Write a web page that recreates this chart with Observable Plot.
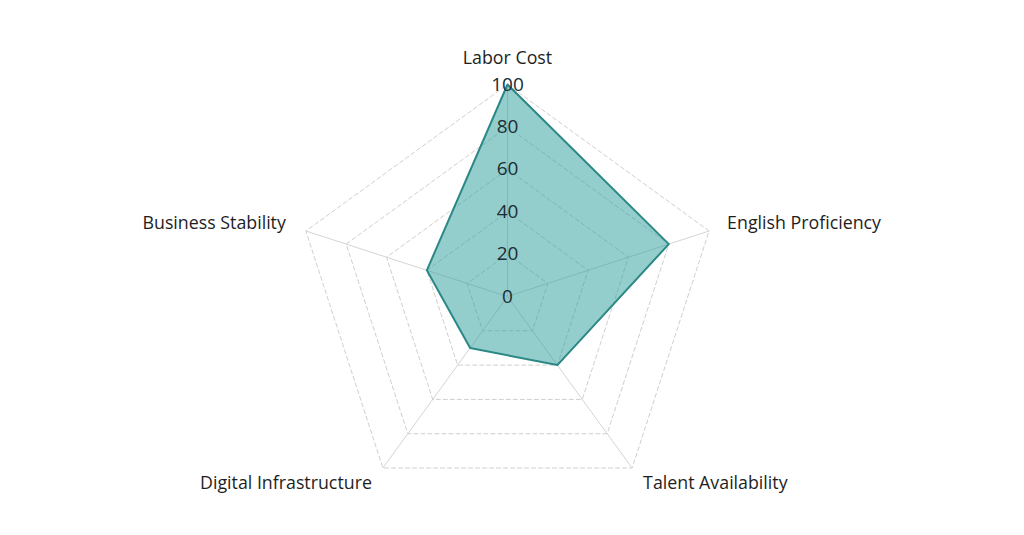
<!DOCTYPE html>
<html>
<head>
<meta charset="utf-8">
<script src="https://cdn.jsdelivr.net/npm/d3@7"></script>
<script src="https://cdn.jsdelivr.net/npm/@observablehq/plot@0.6"></script>
<style>
  html, body { margin: 0; padding: 0; background: #fff; }
  #chart { width: 1024px; height: 535px; }
</style>
</head>
<body>
<div id="chart"></div>
<script>
// Data
const categories = ["Labor Cost", "English Proficiency", "Talent Availability", "Digital Infrastructure", "Business Stability"];
const values = [100, 80, 40, 30, 40];
const ringLevels = [20, 40, 60, 80, 100];
const tickLabels = ["0", "20", "40", "60", "80", "100"];
const tickValues = [0, 20, 40, 60, 80, 100];

const n = categories.length;
const ang = i => (i * 2 * Math.PI) / n;
const px = (i, v) => v * Math.sin(ang(i));
const py = (i, v) => v * Math.cos(ang(i));

// Derived tables
const ringPts = ringLevels.flatMap(r => categories.map((c, i) => ({ring: r, x: px(i, r), y: py(i, r)})));
const spokes = categories.map((c, i) => ({x1: 0, y1: 0, x2: px(i, 100), y2: py(i, 100)}));
const dataPts = categories.map((c, i) => ({cat: c, x: px(i, values[i]), y: py(i, values[i])}));

// label placement (style)
const labelR = 100;
const labelStyle = [
  {anchor: "middle", dx: 0, dy: -26},
  {anchor: "start", dx: 18, dy: -8},
  {anchor: "start", dx: 11, dy: 15},
  {anchor: "end", dx: -11, dy: 15},
  {anchor: "end", dx: -20, dy: -8}
];
const labels = categories.map((c, i) => ({cat: c, x: px(i, labelR), y: py(i, labelR), i}));

const k = 2.12; // px per unit
const W = 1024, H = 535, cx = 507, cy = 296;

const marks = [
  Plot.line(ringPts, {x: "x", y: "y", z: "ring", curve: "linear-closed", stroke: "#cfcfcf", strokeWidth: 1, strokeDasharray: "4,3"}),
  Plot.link(spokes, {x1: "x1", y1: "y1", x2: "x2", y2: "y2", stroke: "#d4d4d4", strokeWidth: 1}),
  Plot.line(dataPts, {x: "x", y: "y", curve: "linear-closed", fill: "#2a9d99", fillOpacity: 0.5, stroke: "#2b8887", strokeWidth: 2}),
  Plot.text(tickValues.map((v, j) => ({v, t: tickLabels[j]})), {x: 0, y: "v", text: "t", fill: "#1b2d36", fontSize: 19, textAnchor: "middle", lineAnchor: "middle"})
];
labelStyle.forEach((s, i) => {
  marks.push(Plot.text([labels[i]], {x: "x", y: "y", text: "cat", textAnchor: s.anchor, dx: s.dx, dy: s.dy, fill: "#1e1e1e", fontSize: 17.8, lineAnchor: "middle"}));
});

const chart = Plot.plot({
  width: W,
  height: H,
  margin: 0,
  x: {domain: [-cx / k, (W - cx) / k], axis: null},
  y: {domain: [-(H - cy) / k, cy / k], axis: null},
  style: {fontFamily: "'Open Sans', sans-serif", background: "#fff"},
  marks
});
document.getElementById("chart").appendChild(chart);
</script>
</body>
</html>
